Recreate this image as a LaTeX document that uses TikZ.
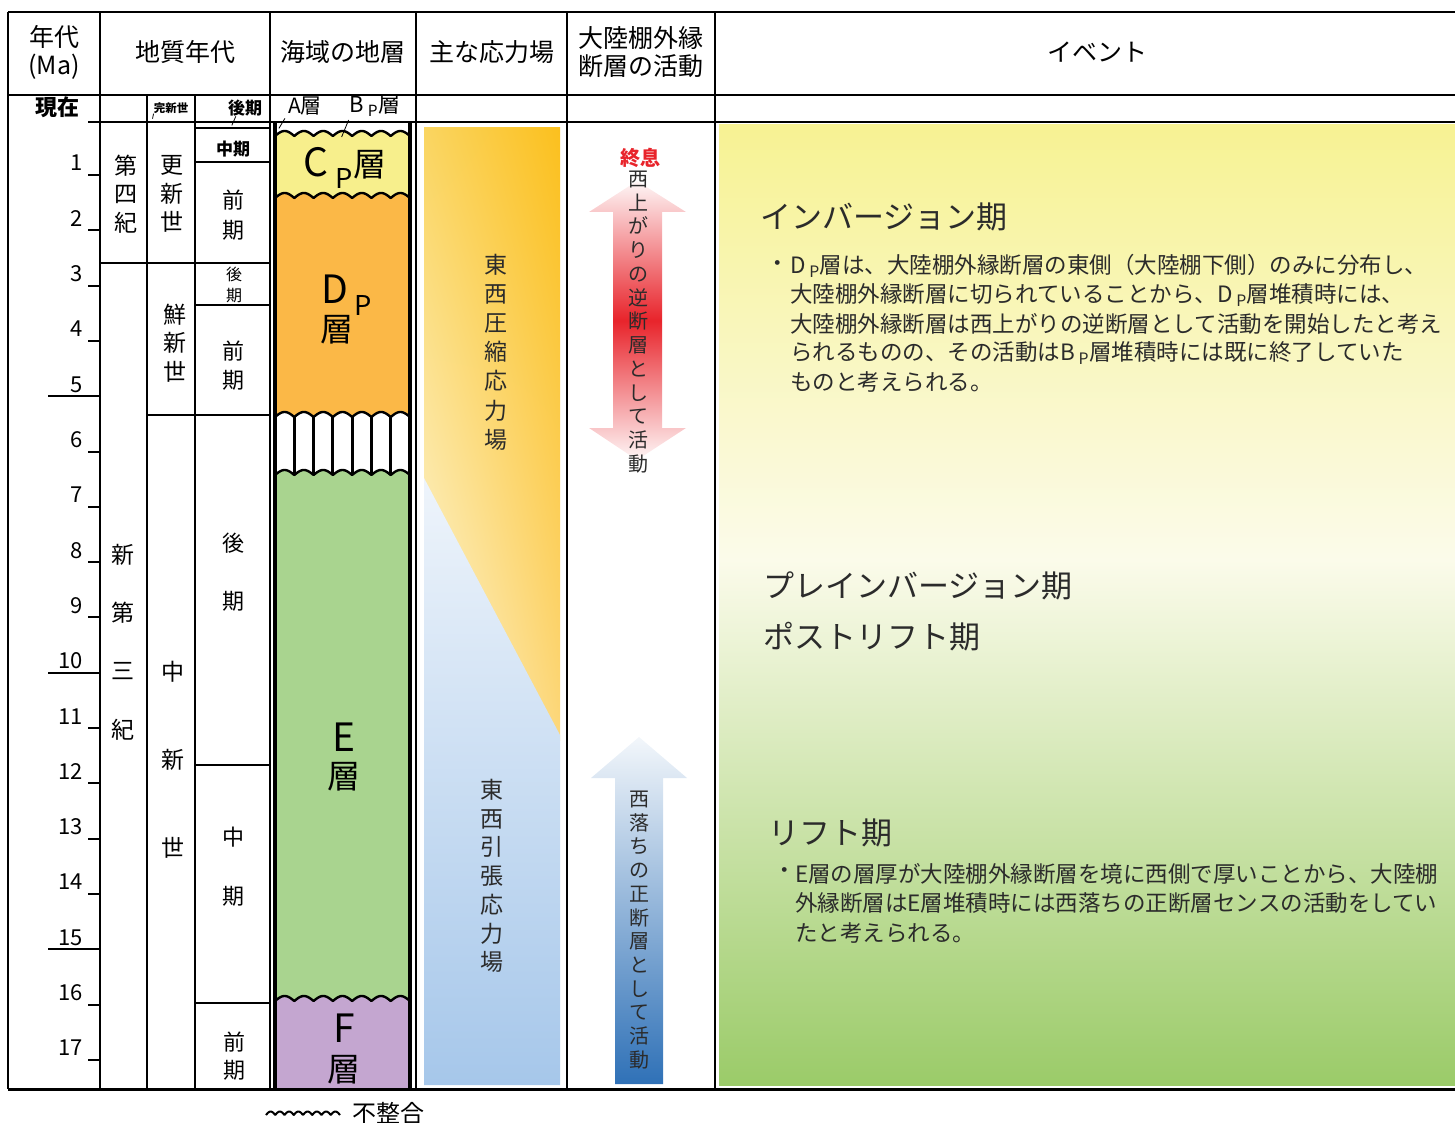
\documentclass[tikz,border=0pt]{standalone}
\usepackage{fontspec}
\setmainfont{Noto Sans CJK JP}
\usetikzlibrary{calc, shadings}
\definecolor{cplayer}{HTML}{F7EF8C}
\definecolor{dplayer}{HTML}{FBB847}
\definecolor{elayer}{HTML}{A9D48F}
\definecolor{flayer}{HTML}{C4A6D0}
\definecolor{compUL}{HTML}{FAD561}
\definecolor{compUR}{HTML}{FBC01E}
\definecolor{compLL}{HTML}{FEF8E2}
\definecolor{compLR}{HTML}{FCD77A}
\definecolor{tensTop}{HTML}{EEF4FB}
\definecolor{tensBot}{HTML}{A6C7EA}
\definecolor{revred}{HTML}{E8242B}
\definecolor{normblue}{HTML}{2F71B7}
\definecolor{evtop}{HTML}{F7F293}
\definecolor{evmid}{HTML}{FBFBEA}
\definecolor{evbot}{HTML}{9BCB69}
\definecolor{inktext}{HTML}{2B2B2B}
\newcommand{\wavy}[1]{plot[domain=275:410, samples=271] (\x,{#1-5*abs(sin((\x-275)*9.3333))})}

\begin{document}
\begin{tikzpicture}[
  x=1pt, y=-1pt, line join=round,
  gridline/.style={black, line width=2pt},
  boldline/.style={black, line width=3pt},
  unconfline/.style={black, line width=2.4pt},
  hdr/.style={font=\fontsize{25}{28}\selectfont, align=center, inner sep=0pt},
  agelbl/.style={font=\fontsize{22}{24}\selectfont, anchor=base east, inner sep=0pt},
  geo/.style={font=\fontsize{23}{28.5}\selectfont, align=center, inner sep=0pt},
  geobf/.style={font=\bfseries\fontsize{17}{20}\selectfont, inner sep=0pt},
  layer/.style={font=\fontsize{33}{38}\selectfont, inner sep=0pt},
  layerlt/.style={font=\fontsize{39}{42}\selectfont, inner sep=0pt},
  tate/.style={align=center, inner sep=0pt, text=inktext},
  evhead/.style={font=\fontsize{31}{34}\selectfont, anchor=west, inner sep=0pt, text=inktext},
  evtext/.style={font=\fontsize{22.5}{29}\selectfont, anchor=west, inner sep=0pt, text=inktext},
]
\path[use as bounding box] (0,0) rectangle (1455,1123);

% Event background
\shade[top color=evtop, bottom color=evmid] (719,125) rectangle (1455,560);
\shade[top color=evmid, bottom color=evbot] (719,560) rectangle (1455,1085);

% Stress fields
\shade[upper left=compUL, upper right=compUR, lower left=compLL, lower right=compLR]
  (424,128) rectangle (560,740);
\shade[top color=tensTop, bottom color=tensBot]
  (424,478) -- (560,735) -- (560,1085) -- (424,1085) -- cycle;

% Strata
\fill[cplayer] \wavy{136} -- (410,205) -- (275,205) -- cycle;
\fill[dplayer] \wavy{198} -- (410,422) -- (275,422) -- cycle;
\fill[white] \wavy{417} -- (410,480) -- (275,480) -- cycle;
\fill[elayer] \wavy{475} -- (410,1006) -- (275,1006) -- cycle;
\fill[flayer] \wavy{1001} -- (410,1088) -- (275,1088) -- cycle;
\foreach \k in {1,...,6} {
  \draw[black, line width=3.2pt] ({275+\k*19.2857},417) -- ({275+\k*19.2857},475);
}
\foreach \wy in {136,198,417,475,1001} {
  \draw[unconfline] \wavy{\wy};
}
\draw[boldline, line width=3.5pt] (275,122) -- (275,1089) (410,122) -- (410,1089);

% Table
\draw[gridline, line width=2.8pt] (8,12) -- (1455,12);
\draw[gridline] (8,95) -- (1455,95);
\draw[gridline, line width=2.6pt] (100,122) -- (1455,122);
\draw[gridline, line width=3pt] (8,1089) -- (1455,1089);
\foreach \cx in {8,100,270,416,567,715} {
  \draw[gridline] (\cx,12) -- (\cx,1089);
}
\foreach \cx in {147,195} {
  \draw[gridline] (\cx,95) -- (\cx,1089);
}
\draw[gridline] (100,263) -- (270,263);
\draw[gridline] (147,415) -- (270,415);
\foreach \ry in {128,162,305,765,1003} {
  \draw[gridline, line width=1.6pt] (195,\ry) -- (270,\ry);
}

% Headers
\node[hdr] (hage) at (54,52) {年代\\(Ma)};
\node[hdr] (hgeo) at (185,52) {地質年代};
\node[hdr] (hsea) at (343,52) {海域の地層};
\node[hdr] (hstress) at (492,52) {主な応力場};
\node[hdr] (hfault) at (641,52) {大陸棚外縁\\断層の活動};
\node[hdr] (hevent) at (1097,52) {イベント};

% Age scale
\node[font=\bfseries\fontsize{22}{24}\selectfont, inner sep=0pt] (now) at (57,107) {現在};
\draw[gridline] (88,122) -- (100,122);
\foreach \n in {1,...,17} {
  \pgfmathsetmacro{\ty}{119.7+55.3*\n}
  \node[agelbl] (age\n) at (83,{\ty-4}) {\n};
  \draw[gridline] (88,\ty) -- (100,\ty);
}
\foreach \n in {5,10,15} {
  \draw[gridline] (48,{119.7+55.3*\n}) -- (88,{119.7+55.3*\n});
}

% Geologic time
\node[font=\bfseries\fontsize{11.5}{13}\selectfont, inner sep=0pt] (holo) at (171,108) {完新世};
\node[geobf] (late0) at (245,108) {後期};
\node[geobf] (mid0) at (233,149) {中期};
\draw[line width=0.8pt] (holo.south west) -- ++(-1,5);
\draw[line width=0.8pt] ($(late0.south west)+(8,0)$) -- ++(-4,9);
\node[geo] (quat) at (126,194) {第\\四\\紀};
\node[geo] (pleis) at (172,194) {更\\新\\世};
\node[geo, font=\fontsize{22}{30}\selectfont] (pleisE) at (233,215) {前\\期};
\node[geo, font=\fontsize{16}{21}\selectfont] (plioL) at (234,285) {後\\期};
\node[geo] (plio) at (175,343) {鮮\\新\\世};
\node[geo, font=\fontsize{22}{29}\selectfont] (plioE) at (233,366) {前\\期};
\node[geo, font=\fontsize{23}{58.3}\selectfont] (neog) at (123,642) {新\\第\\三\\紀};
\node[geo, font=\fontsize{23}{88}\selectfont] (mio) at (173,760) {中\\新\\世};
\node[geo, font=\fontsize{22}{58}\selectfont] (mioL) at (233,572) {後\\期};
\node[geo, font=\fontsize{22}{59}\selectfont] (mioM) at (233,867) {中\\期};
\node[geo, font=\fontsize{22}{28}\selectfont] (mioE) at (234,1056) {前\\期};

% Strata labels
\node[font=\fontsize{21}{22}\selectfont, inner sep=0pt] (alay) at (305,106) {A層};
\node[font=\fontsize{22}{22}\selectfont, inner sep=0pt] (bplay) at (375,106) {B\,\textsubscript{P}層};
\draw[line width=0.8pt] (alay.south west) ++(-3,3) -- ++(-6,10);
\draw[line width=0.8pt] (bplay.south west) ++(-1,3) -- ++(-7,17);
\node[layerlt] (cp) at (345,168) {C\,\textsubscript{P}\fontsize{33}{38}\selectfont 層};
\node[layerlt] (dp) at (347,295) {D\,\textsubscript{P}};
\node[layer] (dpk) at (337,330) {層};
\node[layerlt] (el) at (344,737) {E};
\node[layer] (elk) at (344,777) {層};
\node[layerlt] (fl) at (344,1028) {F};
\node[layer] (flk) at (344,1070) {層};

% Stress texts
\node[tate, font=\fontsize{23}{29.2}\selectfont] (comp) at (496,352) {東\\西\\圧\\縮\\応\\力\\場};
\node[tate, font=\fontsize{23}{28.7}\selectfont] (tens) at (492,876) {東\\西\\引\\張\\応\\力\\場};

% Fault activity
\shade[top color=revred!4, bottom color=revred!4, middle color=revred]
  (637,181) -- (686,212) -- (662,212) -- (662,428) -- (686,428) -- (637,460)
  -- (589,428) -- (613,428) -- (613,212) -- (589,212) -- cycle;
\shade[top color=normblue!6, bottom color=normblue]
  (639,737) -- (687,778) -- (663,778) -- (663,1084) -- (615,1084) -- (615,778) -- (591,778) -- cycle;
\node[font=\bfseries\fontsize{20}{22}\selectfont, text=revred, inner sep=0pt] (stop) at (640,158) {終息};
\node[tate, font=\fontsize{20}{23.75}\selectfont] (revtxt) at (638,322)
  {西\\上\\が\\り\\の\\逆\\断\\層\\と\\し\\て\\活\\動};
\node[tate, font=\fontsize{20}{23.7}\selectfont] (normtxt) at (639,930)
  {西\\落\\ち\\の\\正\\断\\層\\と\\し\\て\\活\\動};

% Events
\node[evhead] (inv) at (760,217) {インバージョン期};
\node[evtext] (invb) at (766,266) {・};
\foreach \t [count=\i] in {D\,\textsubscript{P}層は、大陸棚外縁断層の東側（大陸棚下側）のみに分布し、,
  大陸棚外縁断層に切られていることから、D\,\textsubscript{P}層堆積時には、,
  大陸棚外縁断層は西上がりの逆断層として活動を開始したと考え,
  られるものの、その活動はB\,\textsubscript{P}層堆積時には既に終了していた,
  ものと考えられる。} {
  \node[evtext] (inv\i) at (790,{237+29*\i}) {\t};
}
\node[evhead] (preinv) at (763,586) {プレインバージョン期};
\node[evhead] (postrift) at (763,637) {ポストリフト期};
\node[evhead] (rift) at (768,833) {リフト期};
\node[evtext] (riftb) at (773,873) {・};
\foreach \t [count=\i] in {E層の層厚が大陸棚外縁断層を境に西側で厚いことから、大陸棚,
  外縁断層はE層堆積時には西落ちの正断層センスの活動をしてい,
  たと考えられる。} {
  \node[evtext] (rift\i) at (795,{844+29.5*\i}) {\t};
}

% Legend
\draw[black, line width=2pt] plot[domain=266:340, samples=150] (\x,{1115-3.5*abs(sin((\x-266)*19.459))});
\node[font=\fontsize{24}{26}\selectfont, inner sep=0pt] (legend) at (388,1113) {不整合};
\end{tikzpicture}
\end{document}
